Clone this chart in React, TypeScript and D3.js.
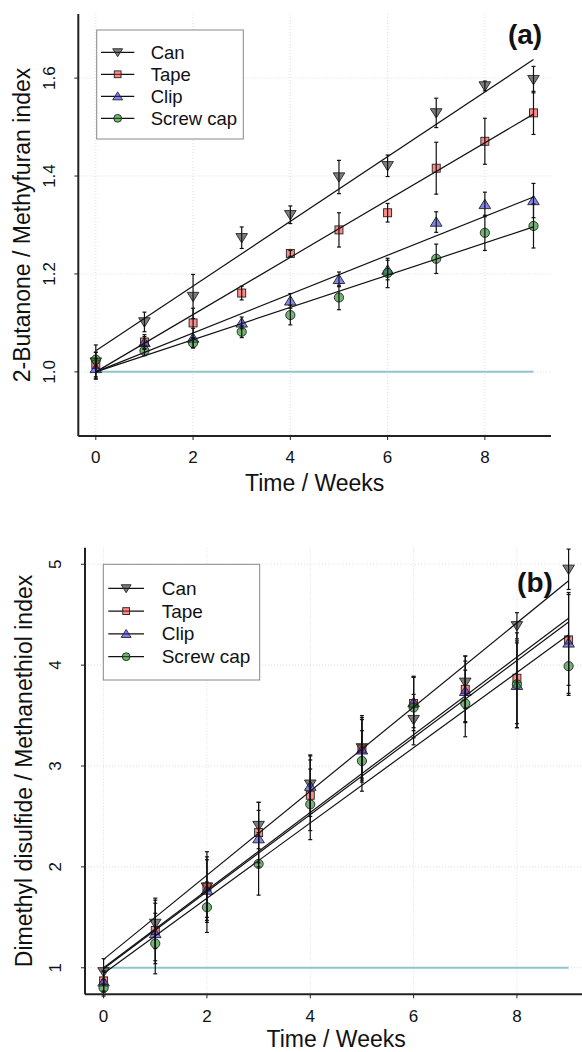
import React from "react";
import * as d3 from "d3";

// ---------- data ----------
const weeks = [0, 1, 2, 3, 4, 5, 6, 7, 8, 9];
const seriesNames = ["Can", "Tape", "Clip", "Screw cap"];
const seriesShapes = ["down", "square", "up", "circle"];
const seriesFills = [
  "rgba(40,40,40,0.6)",
  "rgba(255,40,40,0.55)",
  "rgba(30,30,230,0.55)",
  "rgba(20,130,20,0.6)",
];

// Panel (a): 2-Butanone / Methyfuran index
const canA = [1.02, 1.102, 1.154, 1.274, 1.321, 1.398, 1.421, 1.529, 1.584, 1.597];
const tapeA = [1.015, 1.061, 1.1, 1.161, 1.242, 1.29, 1.325, 1.416, 1.471, 1.529];
const clipA = [1.007, 1.06, 1.069, 1.1, 1.145, 1.189, 1.208, 1.306, 1.342, 1.35];
const screwA = [1.025, 1.043, 1.059, 1.082, 1.116, 1.152, 1.202, 1.231, 1.284, 1.298];
const canErrA = [0.035, 0.02, 0.045, 0.022, 0.018, 0.034, 0.022, 0.03, 0.01, 0.027];
const tapeErrA = [0.025, 0.015, 0.03, 0.014, 0.006, 0.035, 0.019, 0.053, 0.047, 0.044];
const clipErrA = [0.02, 0.012, 0.02, 0.012, 0.015, 0.015, 0.02, 0.021, 0.025, 0.035];
const screwErrA = [0.015, 0.01, 0.01, 0.012, 0.02, 0.025, 0.03, 0.03, 0.036, 0.045];
const fitInterceptA = [1.043, 1.0, 1.0, 1.0];
const fitSlopeA = [0.0661, 0.0585, 0.0397, 0.0329];
const yTicksA = [1.0, 1.2, 1.4, 1.6];

// Panel (b): Dimethyl disulfide / Methanethiol index
const canB = [0.96, 1.44, 1.8, 2.41, 2.82, 3.18, 3.46, 3.83, 4.39, 4.95];
const tapeB = [0.87, 1.37, 1.8, 2.34, 2.71, 3.17, 3.62, 3.76, 3.87, 4.25];
const clipB = [0.86, 1.34, 1.77, 2.28, 2.8, 3.16, 3.63, 3.74, 3.8, 4.22];
const screwB = [0.8, 1.24, 1.6, 2.03, 2.62, 3.05, 3.58, 3.62, 3.81, 3.99];
const canErrB = [0.13, 0.25, 0.3, 0.23, 0.29, 0.3, 0.25, 0.26, 0.13, 0.2];
const tapeErrB = [0.1, 0.3, 0.35, 0.3, 0.35, 0.33, 0.27, 0.33, 0.45, 0.45];
const clipErrB = [0.1, 0.3, 0.3, 0.28, 0.3, 0.3, 0.25, 0.3, 0.42, 0.5];
const screwErrB = [0.08, 0.3, 0.25, 0.31, 0.35, 0.3, 0.3, 0.33, 0.43, 0.29];
const fitInterceptB = [1.083, 1.0, 0.99, 0.944];
const fitSlopeB = [0.417, 0.385, 0.382, 0.373];
const yTicksB = [1, 2, 3, 4, 5];

const xTicks = [0, 2, 4, 6, 8];
const xDomain = [-0.36, 9.36];
const baseline = 1;

const FONT = "'Liberation Sans', Arial, Helvetica, sans-serif";

function Marker({ shape, cx, cy, fill, s = 1 }) {
  const stroke = "#222";
  const sw = 0.9;
  if (shape === "circle") return <circle cx={cx} cy={cy} r={4.6 * s} fill={fill} stroke={stroke} strokeWidth={sw} />;
  if (shape === "square") {
    const h = 4.0 * s;
    return <rect x={cx - h} y={cy - h} width={2 * h} height={2 * h} fill={fill} stroke={stroke} strokeWidth={sw} />;
  }
  const w = 5.8 * s;
  const hh = 5.2 * s;
  const pts =
    shape === "up"
      ? `${cx},${cy - hh} ${cx - w},${cy + hh * 0.8} ${cx + w},${cy + hh * 0.8}`
      : `${cx},${cy + hh} ${cx - w},${cy - hh * 0.8} ${cx + w},${cy - hh * 0.8}`;
  return <polygon points={pts} fill={fill} stroke={stroke} strokeWidth={sw} />;
}

function Panel({ cfg }) {
  const x = d3.scaleLinear().domain(xDomain).range([cfg.left, cfg.right]);
  const y = d3.scaleLinear().domain(cfg.yDomain).range([cfg.bottom, cfg.top]);
  const series = cfg.values;
  const errs = cfg.errs;
  const line = d3.line().x((d) => x(d[0])).y((d) => y(d[1]));
  const cx = (cfg.left + cfg.right) / 2;
  const cy = (cfg.top + cfg.bottom) / 2;
  return (
    <g fontFamily={FONT}>
      {xTicks.map((t) => (
        <line key={"gx" + t} x1={x(t)} x2={x(t)} y1={cfg.top} y2={cfg.bottom} stroke="#dcdcdc" strokeDasharray="1 2" strokeWidth={1} />
      ))}
      {cfg.yTicks.map((t) => (
        <line key={"gy" + t} x1={cfg.left} x2={cfg.right} y1={y(t)} y2={y(t)} stroke="#dcdcdc" strokeDasharray="1 2" strokeWidth={1} />
      ))}
      <line x1={x(0)} x2={x(9)} y1={y(baseline)} y2={y(baseline)} stroke="#8cc6cb" strokeWidth={2} />
      {series.map((vals, si) =>
        vals.map((v, i) => (
          <Marker key={"m" + si + "-" + i} shape={seriesShapes[si]} cx={x(weeks[i])} cy={y(v)} fill={seriesFills[si]} />
        ))
      )}
      {series.map((vals, si) =>
        vals.map((v, i) => {
          const px = x(weeks[i]);
          const y1 = y(v + errs[si][i]);
          const y2 = y(v - errs[si][i]);
          return (
            <g key={"e" + si + "-" + i} stroke="#111" strokeWidth={1.2}>
              <line x1={px} x2={px} y1={y1} y2={y2} />
              <line x1={px - 2} x2={px + 2} y1={y1} y2={y1} />
              <line x1={px - 2} x2={px + 2} y1={y2} y2={y2} />
            </g>
          );
        })
      )}
      {cfg.intercepts.map((b, si) => (
        <path
          key={"f" + si}
          d={line([
            [0, b],
            [9, b + cfg.slopes[si] * 9],
          ])}
          stroke="#111"
          strokeWidth={1.2}
          fill="none"
        />
      ))}
      <line x1={cfg.left} x2={cfg.left} y1={cfg.top} y2={cfg.bottom} stroke="#222" strokeWidth={2} />
      <line x1={cfg.left} x2={cfg.right} y1={cfg.bottom} y2={cfg.bottom} stroke="#222" strokeWidth={2} />
      {xTicks.map((t) => (
        <g key={"xt" + t}>
          <line x1={x(t)} x2={x(t)} y1={cfg.bottom} y2={cfg.bottom + 4} stroke="#222" strokeWidth={1} />
          <text x={x(t)} y={cfg.xLabelY} textAnchor="middle" dominantBaseline="central" fontSize={17} fill="#111">
            {t}
          </text>
        </g>
      ))}
      {cfg.yTicks.map((t) => (
        <g key={"yt" + t}>
          <line x1={cfg.left - 4} x2={cfg.left} y1={y(t)} y2={y(t)} stroke="#222" strokeWidth={1} />
          <text
            transform={`translate(${cfg.yLabelX},${y(t)}) rotate(-90)`}
            textAnchor="middle"
            dominantBaseline="central"
            fontSize={17}
            fill="#111"
          >
            {cfg.yFmt(t)}
          </text>
        </g>
      ))}
      <text x={cx} y={cfg.xTitleY} textAnchor="middle" dominantBaseline="central" fontSize={23} fill="#111">
        Time / Weeks
      </text>
      <text
        transform={`translate(${cfg.yTitleX},${cy}) rotate(-90)`}
        textAnchor="middle"
        dominantBaseline="central"
        fontSize={23}
        fill="#111"
      >
        {cfg.yTitle}
      </text>
      <text x={cfg.tagX} y={cfg.tagY} textAnchor="middle" dominantBaseline="central" fontSize={28} fontWeight="bold" fill="#111">
        {cfg.tag}
      </text>
      <rect x={cfg.leg.x} y={cfg.leg.y} width={cfg.leg.w} height={cfg.leg.h} fill="white" stroke="#888" strokeWidth={1} />
      {seriesNames.map((n, si) => {
        const ly = cfg.leg.firstY + si * cfg.leg.step;
        return (
          <g key={"l" + si}>
            <line x1={cfg.leg.lineX1} x2={cfg.leg.lineX2} y1={ly} y2={ly} stroke="#111" strokeWidth={1.2} />
            <Marker shape={seriesShapes[si]} cx={(cfg.leg.lineX1 + cfg.leg.lineX2) / 2} cy={ly} fill={seriesFills[si]} s={0.85} />
            <text x={cfg.leg.textX} y={ly} dominantBaseline="central" fontSize={cfg.leg.fs} fill="#111">
              {n}
            </text>
          </g>
        );
      })}
    </g>
  );
}

export default function App() {
  const cfgA = {
    left: 78.3,
    right: 551,
    top: 14,
    bottom: 436,
    yDomain: [0.869, 1.731],
    yTicks: yTicksA,
    yFmt: (t) => t.toFixed(1),
    values: [canA, tapeA, clipA, screwA],
    errs: [canErrA, tapeErrA, clipErrA, screwErrA],
    intercepts: fitInterceptA,
    slopes: fitSlopeA,
    xLabelY: 457,
    xTitleY: 483,
    yLabelX: 49.5,
    yTitleX: 22,
    yTitle: "2-Butanone / Methyfuran index",
    tag: "(a)",
    tagX: 525,
    tagY: 34,
    leg: { x: 96.7, y: 30, w: 146.6, h: 109, firstY: 52.3, step: 22, lineX1: 101, lineX2: 134.3, textX: 150.7, fs: 18.5 },
  };
  const cfgB = {
    left: 85,
    right: 587.2,
    top: 547.7,
    bottom: 994.3,
    yDomain: [0.737, 5.164],
    yTicks: yTicksB,
    yFmt: (t) => String(t),
    values: [canB, tapeB, clipB, screwB],
    errs: [canErrB, tapeErrB, clipErrB, screwErrB],
    intercepts: fitInterceptB,
    slopes: fitSlopeB,
    xLabelY: 1016.7,
    xTitleY: 1039,
    yLabelX: 55,
    yTitleX: 23.5,
    yTitle: "Dimethyl disulfide / Methanethiol index",
    tag: "(b)",
    tagX: 535,
    tagY: 582,
    leg: { x: 103.3, y: 564.3, w: 156.4, h: 115.7, firstY: 588.3, step: 22.8, lineX1: 108.3, lineX2: 144, textX: 161.7, fs: 19 },
  };
  return (
    <svg
      width={582}
      height={1052}
      style={{ position: "absolute", left: 0, top: 0, background: "white" }}
      xmlns="http://www.w3.org/2000/svg"
    >
      <rect x={0} y={0} width={582} height={1052} fill="white" />
      <Panel cfg={cfgA} />
      <Panel cfg={cfgB} />
    </svg>
  );
}
